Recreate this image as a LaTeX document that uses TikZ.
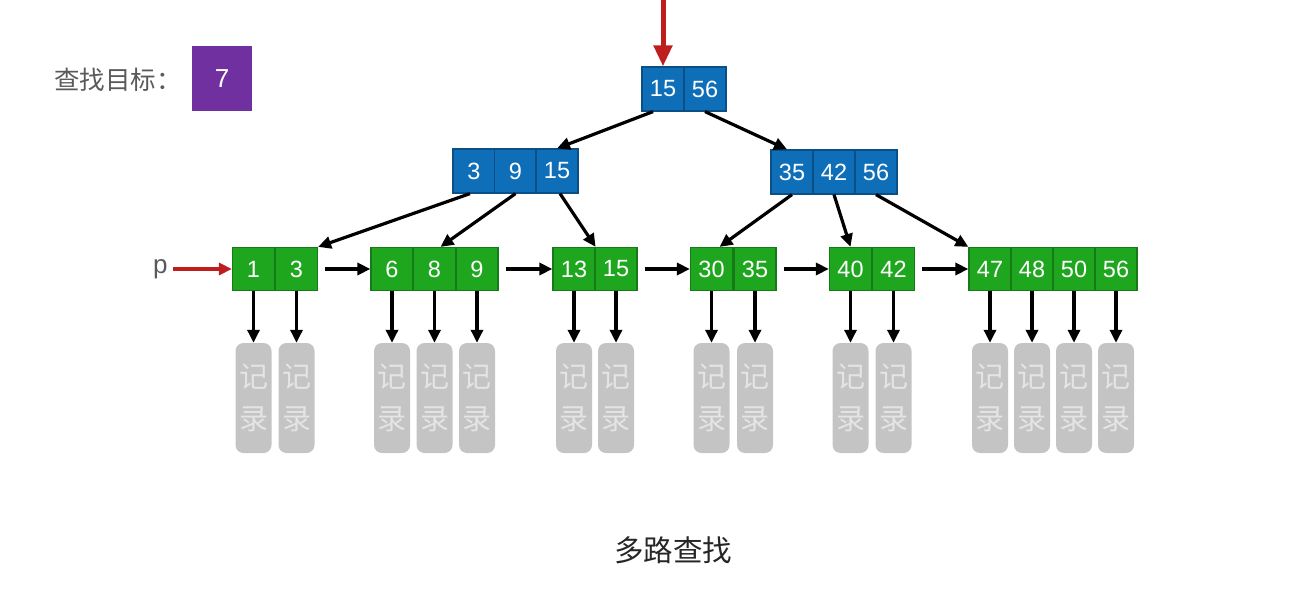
\documentclass[tikz,border=0pt]{standalone}
\usepackage{fontspec}
\setmainfont{Liberation Sans}
\newfontfamily\cjk{Noto Sans CJK SC}
\usetikzlibrary{arrows.meta}
\definecolor{bfill}{HTML}{0E6EB8}
\definecolor{bdraw}{HTML}{0A4F86}
\definecolor{gfill}{HTML}{1FA61F}
\definecolor{gdraw}{HTML}{167A16}
\definecolor{recfill}{HTML}{C4C4C4}
\definecolor{rectext}{HTML}{E4E4E4}
\definecolor{purp}{HTML}{7030A0}
\definecolor{redarr}{HTML}{BE1E1E}
\definecolor{graytxt}{HTML}{5A5A5A}
\begin{document}
\begin{tikzpicture}[x=1pt,y=-1pt,
 cell/.style={draw, line width=1.2pt, minimum width=42pt, minimum height=44pt, inner sep=0pt, text=white, font=\fontsize{23.5}{23.5}\selectfont},
 bcell/.style={cell, fill=bfill, draw=bdraw},
 gcell/.style={cell, fill=gfill, draw=gdraw, minimum height=43pt},
 rec/.style={fill=recfill, rounded corners=8pt, minimum width=36pt, minimum height=110pt, inner sep=0pt, text=rectext, font=\cjk\fontsize{29}{42}\selectfont, align=center},
 arr/.style={line width=3.2pt, -{Triangle[length=13pt,width=12pt]}},
]
\useasboundingbox (0,0) rectangle (1290,591);

% title
\node[anchor=west, text=graytxt, font=\cjk\fontsize{25.5}{25.5}\selectfont, inner sep=0pt] (goal) at (54,80) {查找目标：};
\node[fill=purp, minimum width=60pt, minimum height=65pt, inner sep=0pt, text=white, font=\fontsize{26}{26}\selectfont] (target) at (222,78.5) {7};

% root
\node[bcell] (r1) at (663,89) {15};
\node[bcell] (r2) at (705,89) {56};
\coordinate (top) at (663,0);
\draw[draw=redarr, line width=5pt, -{Triangle[length=21pt,width=18pt]}, color=redarr] (top) -- (r1.north);

% level 2
\node[bcell] (b1) at (474,171) {3};
\node[bcell] (b2) at (515.5,171) {9};
\node[bcell] (b3) at (557,171) {15};
\node[bcell] (c1) at (792,172) {35};
\node[bcell] (c2) at (834,172) {42};
\node[bcell] (c3) at (876,172) {56};

% leaves
\foreach \n/\x/\t in {l1a/253.5/1, l1b/296.5/3, l2a/392/6, l2b/434.5/8, l2c/477/9,
  l3a/574/13, l3b/616/15, l4a/711.5/30, l4b/755/35, l5a/850.5/40, l5b/893.5/42,
  l6a/990/47, l6b/1032/48, l6c/1074/50, l6d/1116/56}{
  \node[gcell] (\n) at (\x,269) {\t};
  \node[rec] (rec\n) at (\x,398) {记\\录};
  \draw[arr] (\n.south) -- (rec\n.north);
}

% root to level 2
\draw[arr] ([xshift=-10pt]r1.south) -- (b3.north);
\draw[arr] (r2.south) -- ([xshift=-5pt]c1.north);
% level 2 to leaves
\draw[arr] ([xshift=-4pt]b1.south) -- (l1b.north east);
\draw[arr] (b2.south) -- ([xshift=6pt]l2b.north);
\draw[arr] ([xshift=3pt]b3.south) -- (l3a.north east);
\draw[arr] (c1.south) -- ([xshift=8pt]l4a.north);
\draw[arr] (c2.south) -- (l5a.north);
\draw[arr] (c3.south) -- (l6a.north west);

% leaf links
\draw[arr, shorten <=7pt] (l1b.east) -- (l2a.west);
\draw[arr, shorten <=7pt] (l2c.east) -- (l3a.west);
\draw[arr, shorten <=7pt] (l3b.east) -- (l4a.west);
\draw[arr, shorten <=7pt] (l4b.east) -- (l5a.west);
\draw[arr, shorten <=7pt] (l5b.east) -- (l6a.west);

% pointer p
\node[text=graytxt, font=\fontsize{26}{26}\selectfont, inner sep=0pt, anchor=west] (p) at (153,269) {\vphantom{x}p};
\draw[draw=redarr, line width=3.2pt, -{Triangle[length=13pt,width=12pt]}, color=redarr] ([xshift=5pt]p.east |- l1a.west) -- (l1a.west);

% caption
\node[font=\cjk\fontsize{29.5}{29.5}\selectfont, text=black!85] (cap) at (673,550) {多路查找};
\end{tikzpicture}
\end{document}
